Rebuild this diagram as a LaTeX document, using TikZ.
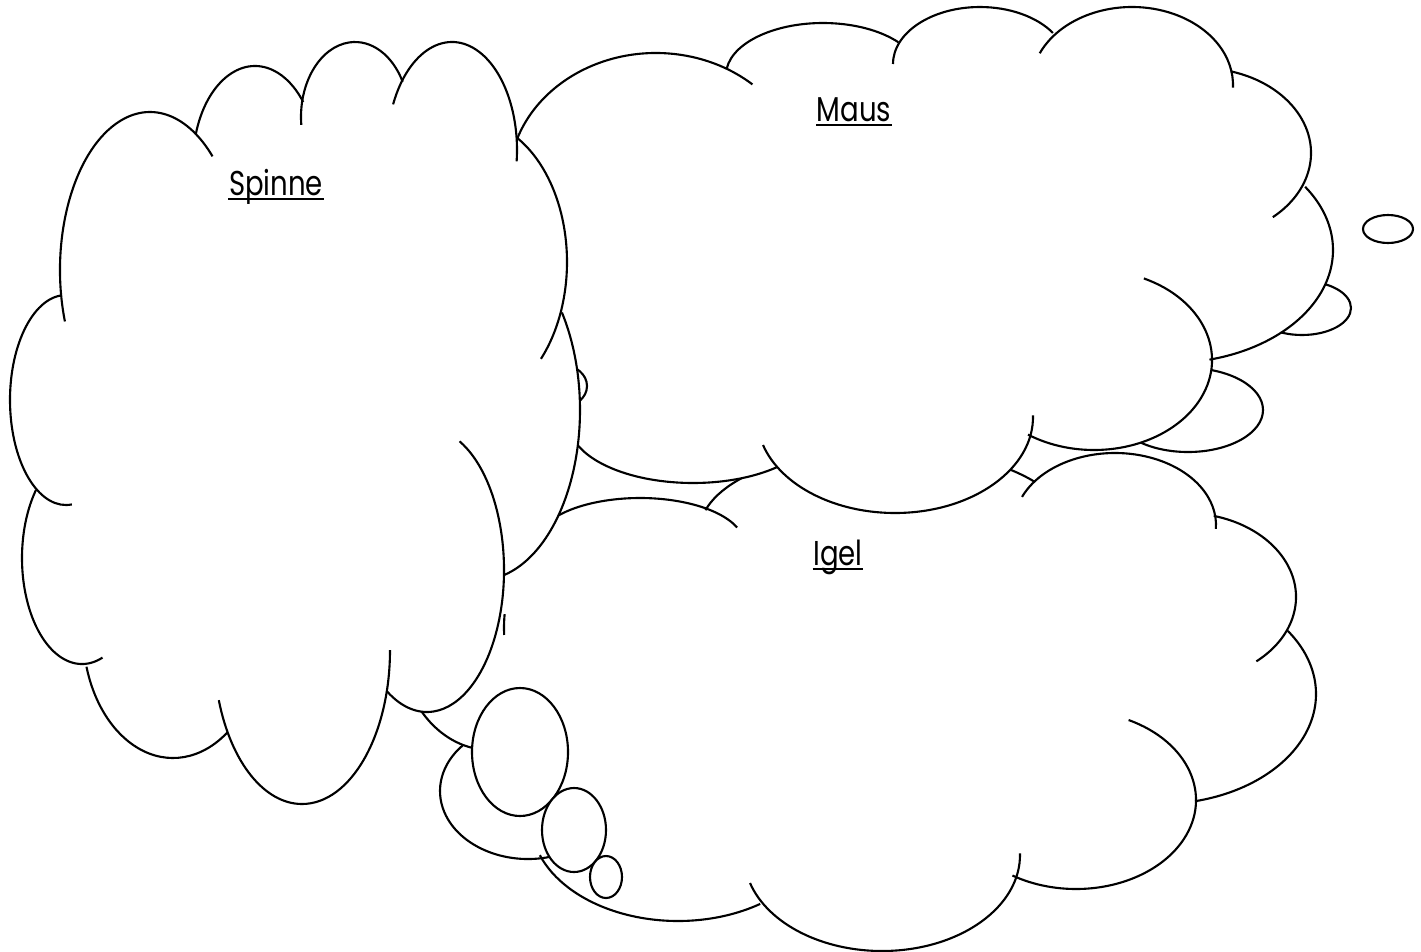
\documentclass[tikz,border=0pt]{standalone}
\usepackage{fontspec}
\newfontfamily\headfont[FakeStretch=0.8]{Poppins}
\tikzset{
  outline/.style={draw=black, line width=0.6pt},
  heading/.style={font=\headfont\fontsize{9.8pt}{12pt}\selectfont, inner sep=0pt, anchor=base},
}
% a cloud: lobes as cx/cy/rx/ry/start/end, then the inner polygon
\newcommand{\thoughtcloud}[2]{%
  \fill[white] #2 -- cycle;
  \foreach \cx/\cy/\rx/\ry/\sa/\ea in {#1}
    \fill[white] (\cx,\cy) ellipse [x radius=\rx, y radius=\ry];
  \foreach \cx/\cy/\rx/\ry/\sa/\ea in {#1}
    \draw[outline] ([shift={(\sa:{\rx} and {\ry})}]\cx,\cy) arc [start angle=\sa, end angle=\ea, x radius=\rx, y radius=\ry];
}
\newcommand{\tailbubble}[4]{\filldraw[outline, fill=white] (#1,#2) ellipse [x radius=#3, y radius=#4];}

\begin{document}
\begin{tikzpicture}[x=0.01cm, y=-0.01cm]
  \useasboundingbox (0,0) rectangle (1421,951);

  % Igel, at the back
  \thoughtcloud{567/628/63/100/176/188, 640/544/104/46/205/339, 885/530/185/82/194/324,
    1115/525/101/72/203/363, 1185/597/111/84/285/410, 1160/694/156/110/325/437,
    1076/800/120/89/296/482, 882/855/138/96/-1/163, 678/821/147/100/56/160,
    528/791/88/68/72/222, 490/640/90/110/100/160}
    {(558,516) -- (710,511) -- (1040,483) -- (1215,517) -- (1288,630) -- (1196,800)
     -- (1010,878) -- (760,904) -- (552,858) -- (465,746) -- (430,700) -- (500,600)}
  \tailbubble{520}{752}{48}{64}
  \tailbubble{574}{830}{32}{42}
  \tailbubble{606}{877}{16}{21}

  % Maus
  \tailbubble{1188}{410}{75}{42}
  \tailbubble{1302}{308}{49}{27}
  \thoughtcloud{656/181/147/128/190/311, 823/75/97/52/187/321, 980/64/87/57/180/327,
    1132/85/101/78/204/362, 1200/153/111/85/286/409, 1170/250/163/113/326/436,
    1094/360/118/90/295/484, 895/417/138/96/-1/163, 693/423/124/60/47/170}
    {(517,140) -- (727,68) -- (898,43) -- (1053,33) -- (1231,72) -- (1303,187)
     -- (1211,360) -- (1026,437) -- (777,467) -- (578,445) -- (540,300)}
  \tailbubble{1388}{229}{25}{14}
  \tailbubble{562}{386}{25}{21}

  % Spinne, in front
  \thoughtcloud{150/270/90/158/161/314, 255/163/62/97/197/321, 355/117/54/75/174/332,
    452/150/65/108/205/366, 470/262/97/142/299/403, 480/410/100/170/325/436,
    427/570/77/142/295/481, 302/650/88/154/0/161, 173/632/90/126/53/164,
    82/558/60/106/70/220, 66/400/56/105/84/264}
    {(195,133) -- (305,100) -- (403,82) -- (517,140) -- (562,313) -- (503,573)
     -- (387,691) -- (227,733) -- (86,666) -- (37,491) -- (60,296)}

  \node[heading] (spinne) at (276,195) {Spinne};
  \node[heading] (maus) at (854,121) {Maus};
  \node[heading] (igel) at (838,565) {Igel};
  \foreach \t in {spinne, maus, igel}
    \draw[outline] ([yshift=-1.1pt]\t.base west) -- ([yshift=-1.1pt]\t.base east);
\end{tikzpicture}
\end{document}
